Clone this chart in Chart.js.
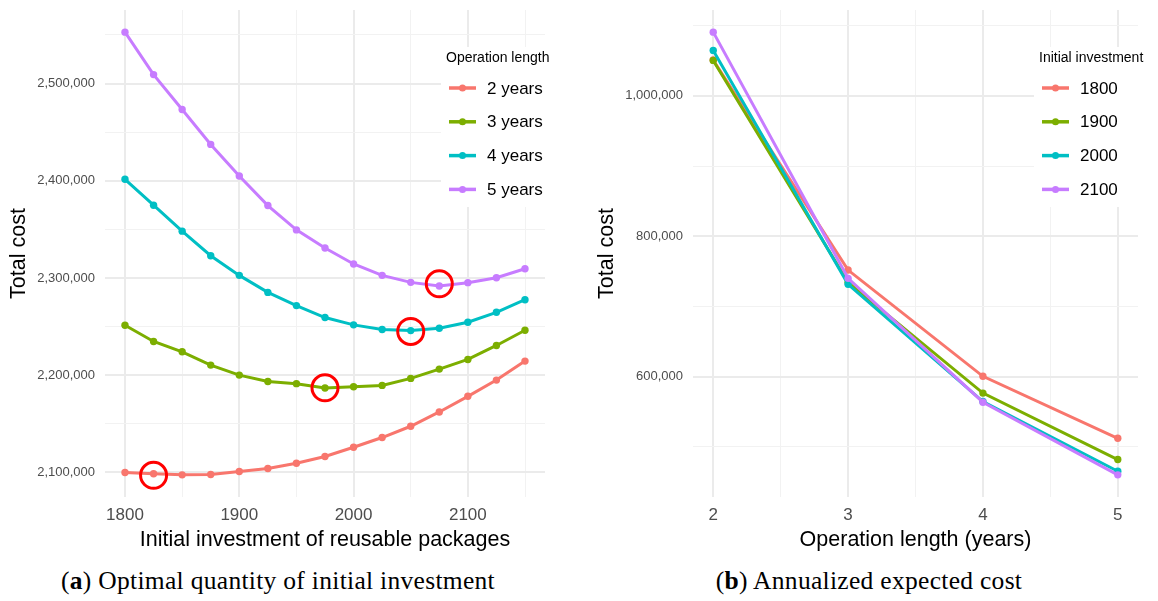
<!DOCTYPE html>
<html>
<head>
<meta charset="utf-8">
<script src="https://cdn.jsdelivr.net/npm/chart.js@4.4.1/dist/chart.umd.min.js"></script>
<style>
  body { margin: 0; background: #fff; width: 1158px; height: 601px; position: relative; overflow: hidden; }
  canvas { position: absolute; top: 0; }
  #leftChart { left: 0; }
  #rightChart { left: 580px; }
  .caption { position: absolute; top: 565px; font-family: "Liberation Serif", serif; font-size: 25.5px; letter-spacing: 0.3px; color: #000; text-align: center; line-height: 32px; }
  #capA { left: 0; width: 556px; }
  #capB { left: 580px; width: 578px; }
</style>
</head>
<body>
<canvas id="leftChart" width="556" height="556"></canvas>
<canvas id="rightChart" width="578" height="556"></canvas>
<div class="caption" id="capA">(<b>a</b>) Optimal quantity of initial investment</div>
<div class="caption" id="capB">(<b>b</b>) Annualized expected cost</div>
<script>
// ---- data: panel (a) ----
const investment = [1800, 1825, 1850, 1875, 1900, 1925, 1950, 1975, 2000, 2025, 2050, 2075, 2100, 2125, 2150];
const lengthLabels = ['2 years', '3 years', '4 years', '5 years'];
const cost2y = [2100000, 2098600, 2097500, 2097900, 2101000, 2104100, 2109500, 2116400, 2125900, 2135900, 2147500, 2162200, 2178300, 2195000, 2214500];
const cost3y = [2251400, 2234700, 2224100, 2210400, 2200100, 2193600, 2191300, 2186800, 2188200, 2189500, 2196700, 2206300, 2216200, 2230600, 2246300];
const cost4y = [2401500, 2374900, 2348200, 2322900, 2302700, 2285200, 2271600, 2259300, 2251800, 2247000, 2245900, 2248300, 2254500, 2264700, 2277700];
const cost5y = [2552900, 2509200, 2473300, 2437400, 2404900, 2374500, 2349500, 2330800, 2314400, 2302700, 2295500, 2291800, 2295200, 2300300, 2309500];
// red circles marking the optimum of each curve
const optimumX = [1825, 1975, 2050, 2075];
const optimumY = [2097000, 2187000, 2245000, 2294000];
// grid positions (labelled ones are the majors)
const xTicksA = [1800, 1850, 1900, 1950, 2000, 2050, 2100, 2150];
const xLabelsA = [1800, 1900, 2000, 2100];
const yTicksA = [2100000, 2150000, 2200000, 2250000, 2300000, 2350000, 2400000, 2450000, 2500000, 2550000];
const yLabelsA = [2100000, 2200000, 2300000, 2400000, 2500000];

// ---- data: panel (b) ----
const years = [2, 3, 4, 5];
const investLabels = ['1800', '1900', '2000', '2100'];
const annual1800 = [1051000, 751800, 600400, 512100];
const annual1900 = [1050500, 734300, 576500, 481800];
const annual2000 = [1064800, 731500, 564500, 465200];
const annual2100 = [1090800, 740000, 563500, 460000];
const xTicksB = [2, 2.5, 3, 3.5, 4, 4.5, 5];
const xLabelsB = [2, 3, 4, 5];
const yTicksB = [500000, 600000, 700000, 800000, 900000, 1000000, 1100000];
const yLabelsB = [600000, 800000, 1000000];

const colors = ['#F8766D', '#7CAE00', '#00BFC4', '#C77CFF'];
const FONT = '"Liberation Sans", Arial, sans-serif';

function pts(xs, ys) { return xs.map((x, i) => ({ x: x, y: ys[i] })); }

// ggplot-like 5% expansion of the data range
function expand(values) {
  const lo = Math.min(...values), hi = Math.max(...values);
  const pad = (hi - lo) * 0.05;
  return [lo - pad, hi + pad];
}

// legend drawn inside the panel, like ggplot's legend.position
const insideLegend = {
  id: 'insideLegend',
  afterDraw(chart, args, opts) {
    const { ctx, chartArea } = chart;
    const sets = chart.data.datasets.filter(d => !d.marker);
    const x0 = chartArea.right + opts.dx;
    const top = chartArea.top;
    ctx.save();
    ctx.fillStyle = '#fff';
    ctx.fillRect(x0 - 8, top + 37, opts.boxWidth, 160);
    ctx.fillStyle = '#000';
    ctx.font = '14px ' + FONT;
    ctx.textBaseline = 'middle';
    ctx.fillText(opts.title, x0 - 3, top + 48);
    sets.forEach((d, i) => {
      const y = top + 78 + i * 33.8;
      ctx.strokeStyle = d.borderColor;
      ctx.lineWidth = 3.5;
      ctx.beginPath();
      ctx.moveTo(x0, y);
      ctx.lineTo(x0 + 27, y);
      ctx.stroke();
      ctx.fillStyle = d.borderColor;
      ctx.beginPath();
      ctx.arc(x0 + 13.5, y, 3.5, 0, Math.PI * 2);
      ctx.fill();
      ctx.fillStyle = '#000';
      ctx.font = '17px ' + FONT;
      ctx.fillText(d.label, x0 + 38, y + 1);
    });
    ctx.restore();
  }
};

function gridOpts(majors) {
  return {
    drawTicks: false,
    color: c => majors.includes(c.tick.value) ? '#ebebeb' : '#f2f2f2',
    lineWidth: c => majors.includes(c.tick.value) ? 2 : 1
  };
}

function makeChart(id, cfg) {
  const [xmin, xmax] = expand(cfg.xAll);
  const [ymin, ymax] = expand(cfg.yAll);
  return new Chart(document.getElementById(id), {
    type: 'line',
    data: { datasets: cfg.datasets },
    options: {
      responsive: false,
      animation: false,
      events: [],
      layout: { autoPadding: false, padding: { top: 10, right: cfg.padRight, left: 0, bottom: 0 } },
      plugins: {
        legend: { display: false },
        tooltip: { enabled: false },
        insideLegend: { title: cfg.legendTitle, dx: -96, boxWidth: 120 }
      },
      scales: {
        x: {
          type: 'linear',
          min: xmin, max: xmax,
          border: { display: false },
          grid: gridOpts(cfg.xLabels),
          afterBuildTicks: s => { s.ticks = cfg.xTicks.map(v => ({ value: v })); },
          ticks: {
            autoSkip: false, maxRotation: 0,
            padding: 8, color: '#4d4d4d', font: { family: FONT, size: 17 },
            callback: v => cfg.xLabels.includes(v) ? String(v) : ''
          },
          title: { display: true, text: cfg.xTitle, color: '#000', font: { family: FONT, size: 21.5 }, padding: { top: 0, bottom: 3 } },
          afterFit: s => { s.height = 59; s.paddingLeft = 0; s.paddingRight = 0; }
        },
        y: {
          min: ymin, max: ymax,
          border: { display: false },
          grid: gridOpts(cfg.yLabels),
          afterBuildTicks: s => { s.ticks = cfg.yTicks.map(v => ({ value: v })); },
          ticks: {
            autoSkip: false,
            padding: 10, color: '#4d4d4d', font: { family: FONT, size: 13 },
            callback: v => cfg.yLabels.includes(v) ? v.toLocaleString('en-US') : ''
          },
          title: { display: true, text: 'Total cost', color: '#000', font: { family: FONT, size: 21.5 }, padding: { top: cfg.yTitlePad, bottom: 0 } },
          afterFit: s => { s.width = cfg.yWidth; s.paddingTop = 0; s.paddingBottom = 0; }
        }
      }
    },
    plugins: [insideLegend]
  });
}

function lineSet(label, data, i) {
  return {
    label: label, data: data,
    borderColor: colors[i], backgroundColor: colors[i],
    borderWidth: 3, pointRadius: 3.7, pointBorderWidth: 0,
    tension: 0, order: 10 - i
  };
}

const seriesA = [cost2y, cost3y, cost4y, cost5y];
const dsA = seriesA.map((s, i) => lineSet(lengthLabels[i], pts(investment, s), i));
dsA.push({
  label: 'optimum', marker: true, data: pts(optimumX, optimumY),
  showLine: false, pointRadius: 13, pointBorderWidth: 3,
  pointBorderColor: '#ff0000', pointBackgroundColor: 'rgba(0,0,0,0)', borderColor: '#ff0000', order: 0
});

makeChart('leftChart', {
  datasets: dsA,
  xAll: investment,
  yAll: seriesA.flat(),
  xTicks: xTicksA, xLabels: xLabelsA,
  yTicks: yTicksA, yLabels: yLabelsA,
  xTitle: 'Initial investment of reusable packages',
  legendTitle: 'Operation length',
  padRight: 11, yWidth: 105, yTitlePad: 6
});

const seriesB = [annual1800, annual1900, annual2000, annual2100];
makeChart('rightChart', {
  datasets: seriesB.map((s, i) => lineSet(investLabels[i], pts(years, s), i)),
  xAll: years,
  yAll: seriesB.flat(),
  xTicks: xTicksB, xLabels: xLabelsB,
  yTicks: yTicksB, yLabels: yLabelsB,
  xTitle: 'Operation length (years)',
  legendTitle: 'Initial investment',
  padRight: 20, yWidth: 113, yTitlePad: 14
});
</script>
</body>
</html>
